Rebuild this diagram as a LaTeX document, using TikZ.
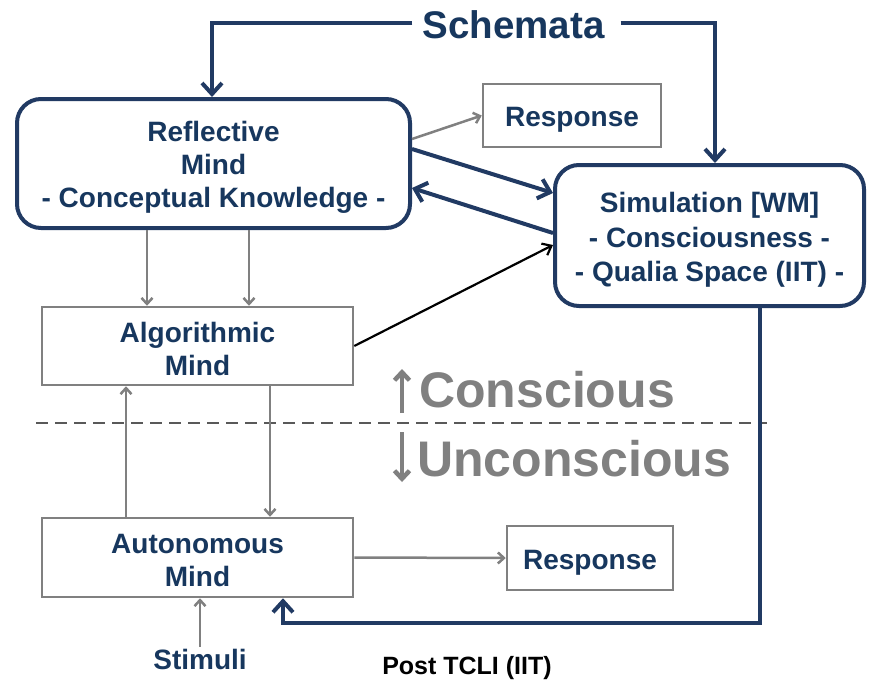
\documentclass[tikz,border=0pt]{standalone}
\usepackage{fontspec}
\setmainfont{Liberation Sans}
\usetikzlibrary{arrows.meta}
\definecolor{navy}{RGB}{33,58,99}
\definecolor{navytext}{RGB}{23,55,94}
\definecolor{midgray}{RGB}{128,128,128}
\definecolor{dashgray}{RGB}{89,89,89}
\newcommand\boxfont{\fontsize{28}{33}\selectfont\bfseries}
\newcommand\simfont{\fontsize{28}{34.5}\selectfont\bfseries}
% invisible strut that lowers the text block inside a box
\newcommand\lift[1]{\rule{0pt}{#1}}

\begin{document}
\begin{tikzpicture}[x=1pt,y=-1pt,
  mindbox/.style={draw=navy, line width=4pt, rounded corners=24pt, fill=white,
    text=navytext, align=center, inner sep=0pt},
  plainbox/.style={draw=midgray, line width=2.5pt, fill=white,
    text=navytext, font=\boxfont, align=center, inner sep=0pt},
  navyarrow/.style={draw=navy, line width=4pt,
    -{Straight Barb[length=11pt,width=20pt,line width=4pt]}},
  grayarrow/.style={draw=midgray, line width=2.5pt,
    -{Straight Barb[length=6pt,width=11pt,line width=2.5pt]}},
  blackarrow/.style={draw=black, line width=2.2pt,
    -{Straight Barb[length=8pt,width=13pt,line width=2.2pt]}},
  bigarrow/.style={draw=midgray, line width=4.5pt,
    -{Straight Barb[length=8pt,width=15pt,line width=4.5pt]}},
]
\useasboundingbox[fill=white] (0,0) rectangle (869,683);

% the two rounded "mind" boxes
\node[mindbox, font=\boxfont, minimum width=393pt, minimum height=129pt]
  (refl) at (213.5,163.5) {\lift{28.5pt}Reflective\\Mind\\- Conceptual Knowledge -};
\node[mindbox, font=\simfont, minimum width=309pt, minimum height=141pt]
  (simu) at (709.5,235.5) {\lift{29.5pt}Simulation [WM]\\- Consciousness -\\- Qualia Space (IIT) -};

% plain grey boxes
\node[plainbox, minimum width=178pt, minimum height=63pt] (resp1) at (572,115.5) {\lift{28.5pt}Response};
\node[plainbox, minimum width=311pt, minimum height=78pt] (algo) at (197.5,346) {\lift{25.5pt}Algorithmic\\Mind};
\node[plainbox, minimum width=311pt, minimum height=79pt] (auto) at (197.5,557.5) {\lift{24.5pt}Autonomous\\Mind};
\node[plainbox, minimum width=166pt, minimum height=64pt] (resp2) at (590,558) {\lift{29.5pt}Response};

% free labels
\node[text=navytext, font=\fontsize{38.5}{40}\selectfont\bfseries, inner sep=0pt]
  (schem) at (513.5,25) {Schemata};
\node[text=navytext, font=\boxfont, inner sep=2pt] (stim) at (200,659) {Stimuli};
\node[text=black, font=\fontsize{25}{28}\selectfont\bfseries, inner sep=0pt]
  (post) at (467,668) {Post TCLI (IIT)};
\node[text=midgray, font=\fontsize{50}{54}\selectfont\bfseries, inner sep=0pt, anchor=west]
  (cons) at (419,390) {Conscious};
\node[text=midgray, font=\fontsize{50}{54}\selectfont\bfseries, inner sep=0pt, anchor=west]
  (uncons) at (417,459) {Unconscious};

% conscious / unconscious divider
\coordinate (divL) at (36,423);
\coordinate (divR) at (767,423);
\draw[dashgray, line width=2.5pt, dash pattern=on 12pt off 7pt] (divL) -- (divR);
\coordinate (upA) at (402,413);
\coordinate (upB) at (402,369);
\coordinate (dnA) at (402,432);
\coordinate (dnB) at (402,482);
\draw[bigarrow] (upA) -- (upB);
\draw[bigarrow] (dnA) -- (dnB);

% schemata feeds both rounded boxes
\draw[navyarrow] ([xshift=-10pt,yshift=2pt]schem.west) -| ([xshift=-1.5pt]refl.north);
\draw[navyarrow] ([xshift=16pt,yshift=2pt]schem.east) -| ([xshift=5.5pt]simu.north);

% reflective <-> simulation
\draw[navyarrow] ([yshift=14.5pt]refl.east) -- ([yshift=42.5pt]simu.west);
\draw[navyarrow] ([yshift=2.5pt]simu.west) -- ([yshift=-24.5pt]refl.east);

% reflective -> response
\draw[grayarrow] ([yshift=24.5pt]refl.east) -- (resp1.west);

% reflective -> algorithmic
\draw[grayarrow] ([xshift=-66.5pt]refl.south) -- ([xshift=-66.5pt]refl.south |- algo.north);
\draw[grayarrow] ([xshift=35.5pt]refl.south) -- ([xshift=35.5pt]refl.south |- algo.north);

% algorithmic -> simulation
\draw[blackarrow] (algo.east) -- ([yshift=-9.5pt]simu.west);

% algorithmic <-> autonomous
\draw[grayarrow] ([xshift=-71.5pt]auto.north) -- ([xshift=-71.5pt]algo.south);
\draw[grayarrow] ([xshift=72.5pt]algo.south) -- ([xshift=72.5pt]auto.north);

% autonomous -> response
\draw[grayarrow] (auto.east) -- (resp2.west);

% stimuli -> autonomous
\draw[grayarrow] (stim.north) -- (stim.north |- auto.south);

% simulation feeds back into the autonomous mind
\draw[navyarrow] ([xshift=50.5pt]simu.south) -- ++(0,315) -| ([xshift=85.5pt]auto.south);
\end{tikzpicture}
\end{document}
